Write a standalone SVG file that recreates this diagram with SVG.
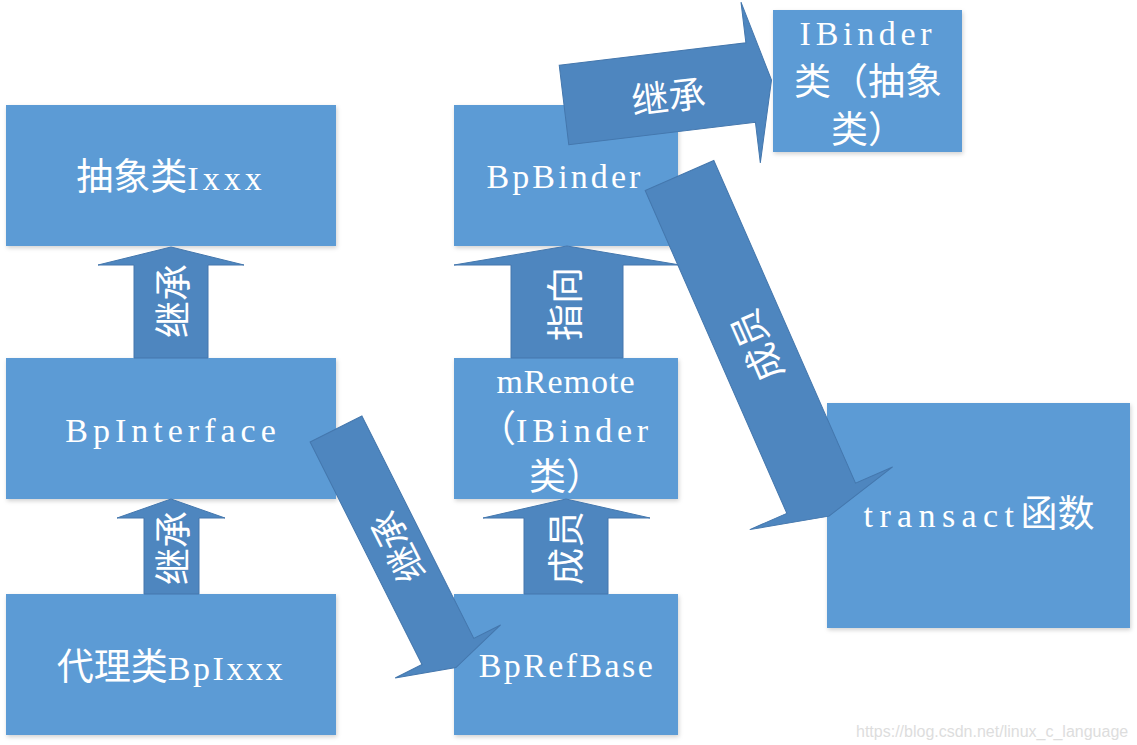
<svg xmlns="http://www.w3.org/2000/svg" width="1137" height="745" viewBox="0 0 1137 745">
<defs>
<filter id="sh" x="-10%" y="-10%" width="120%" height="125%">
<feDropShadow dx="1" dy="2" stdDeviation="2" flood-color="#000" flood-opacity="0.18"/>
</filter>
<style>
.box{fill:#5b9bd5;filter:url(#sh);}
.arr{fill:#4e86bf;stroke:#4477ad;stroke-width:1;stroke-linejoin:miter;}
.t{font-family:"Liberation Serif","Noto Sans CJK SC",serif;font-size:34px;fill:#ffffff;text-anchor:middle;}
.c{font-family:"Noto Sans CJK SC",sans-serif;font-size:37px;letter-spacing:0;}
.al{font-family:"Noto Sans CJK SC",sans-serif;font-size:37px;fill:#ffffff;text-anchor:middle;dominant-baseline:central;}
.wm{font-family:"Liberation Sans",Arial,sans-serif;font-size:16px;fill:#dddddd;}
</style>
</defs>
<rect width="1137" height="745" fill="#ffffff"/>

<g id="node-ixxx">
<rect class="box" x="6" y="105" width="330" height="141"/>
<text class="t" x="171" y="190"><tspan class="c">抽象类</tspan><tspan letter-spacing="4">Ixxx</tspan></text>
</g>
<g id="node-bpinterface">
<rect class="box" x="6" y="358" width="330" height="141"/>
<text class="t" x="173" y="442" letter-spacing="5">BpInterface</text>
</g>
<g id="node-bpixxx">
<rect class="box" x="6" y="594" width="330" height="141"/>
<text class="t" x="171" y="680"><tspan class="c">代理类</tspan><tspan letter-spacing="2.6">BpIxxx</tspan></text>
</g>
<g id="node-bpbinder">
<rect class="box" x="454" y="105" width="224" height="141"/>
<text class="t" x="565" y="188" letter-spacing="3.1">BpBinder</text>
</g>
<g id="node-mremote">
<rect class="box" x="454" y="358" width="224" height="141"/>
<text class="t" x="566" y="393"><tspan letter-spacing="1">mRemote</tspan><tspan x="566" y="442"><tspan class="c">（</tspan><tspan letter-spacing="4.7">IBinder</tspan></tspan><tspan x="566" y="490" class="c">类）</tspan></text>
</g>
<g id="node-bprefbase">
<rect class="box" x="454" y="594" width="224" height="141"/>
<text class="t" x="567" y="677" letter-spacing="2.4">BpRefBase</text>
</g>
<g id="node-ibinder">
<rect class="box" x="773" y="10" width="189" height="142"/>
<text class="t" x="868" y="45"><tspan letter-spacing="4.7">IBinder</tspan><tspan x="868" y="95" class="c">类（抽象</tspan><tspan x="868" y="143" class="c">类）</tspan></text>
</g>
<g id="node-transact">
<rect class="box" x="827" y="403" width="303" height="225"/>
<text class="t" x="979" y="527"><tspan letter-spacing="6.4">transact</tspan><tspan class="c">函数</tspan></text>
</g>

<g id="connectors">
<g id="a1">
<polygon class="arr" points="134,358 134,265 98,265 171,247 244,265 208,265 208,358"/>
<text class="al" transform="translate(171,301) rotate(-90)">继承</text>
</g>
<g id="a2">
<polygon class="arr" points="144,594 144,518 117,518 171,499 225,518 199,518 199,594"/>
<text class="al" transform="translate(171,548) rotate(-90)">继承</text>
</g>
<g id="a3">
<polygon class="arr" points="511,358 511,265 454,265 567,246 680,265 623,265 623,358"/>
<text class="al" transform="translate(563,304) rotate(-90)">指向</text>
</g>
<g id="a4">
<polygon class="arr" points="524,594 524,518 483,518 566,499 650,518 608,518 608,594"/>
<text class="al" transform="translate(564,548) rotate(-90)">成员</text>
</g>
<g id="a5" transform="translate(564,105) rotate(-6.85)">
<polygon class="arr" points="0,-40 188,-40 188,-81 209,0 188,81 188,40 0,40"/>
<text class="al" x="104.5" y="2">继承</text>
</g>
<g id="a6" transform="translate(336,429) rotate(63.3)">
<polygon class="arr" points="0,-29 249,-29 249,-59 267,0 249,59 249,29 0,29"/>
<text class="al" transform="translate(133,0) rotate(180)">继承</text>
</g>
<g id="a7" transform="translate(679.5,175.5) rotate(66.3)">
<polygon class="arr" points="0,-37.5 352.5,-37.5 352.5,-78 372,0 352.5,78 352.5,37.5 0,37.5"/>
<text class="al" transform="translate(187,0) rotate(180)">成员</text>
</g>
</g>

<text class="wm" x="856" y="737">https://blog.csdn.net/linux_c_language</text>
</svg>
